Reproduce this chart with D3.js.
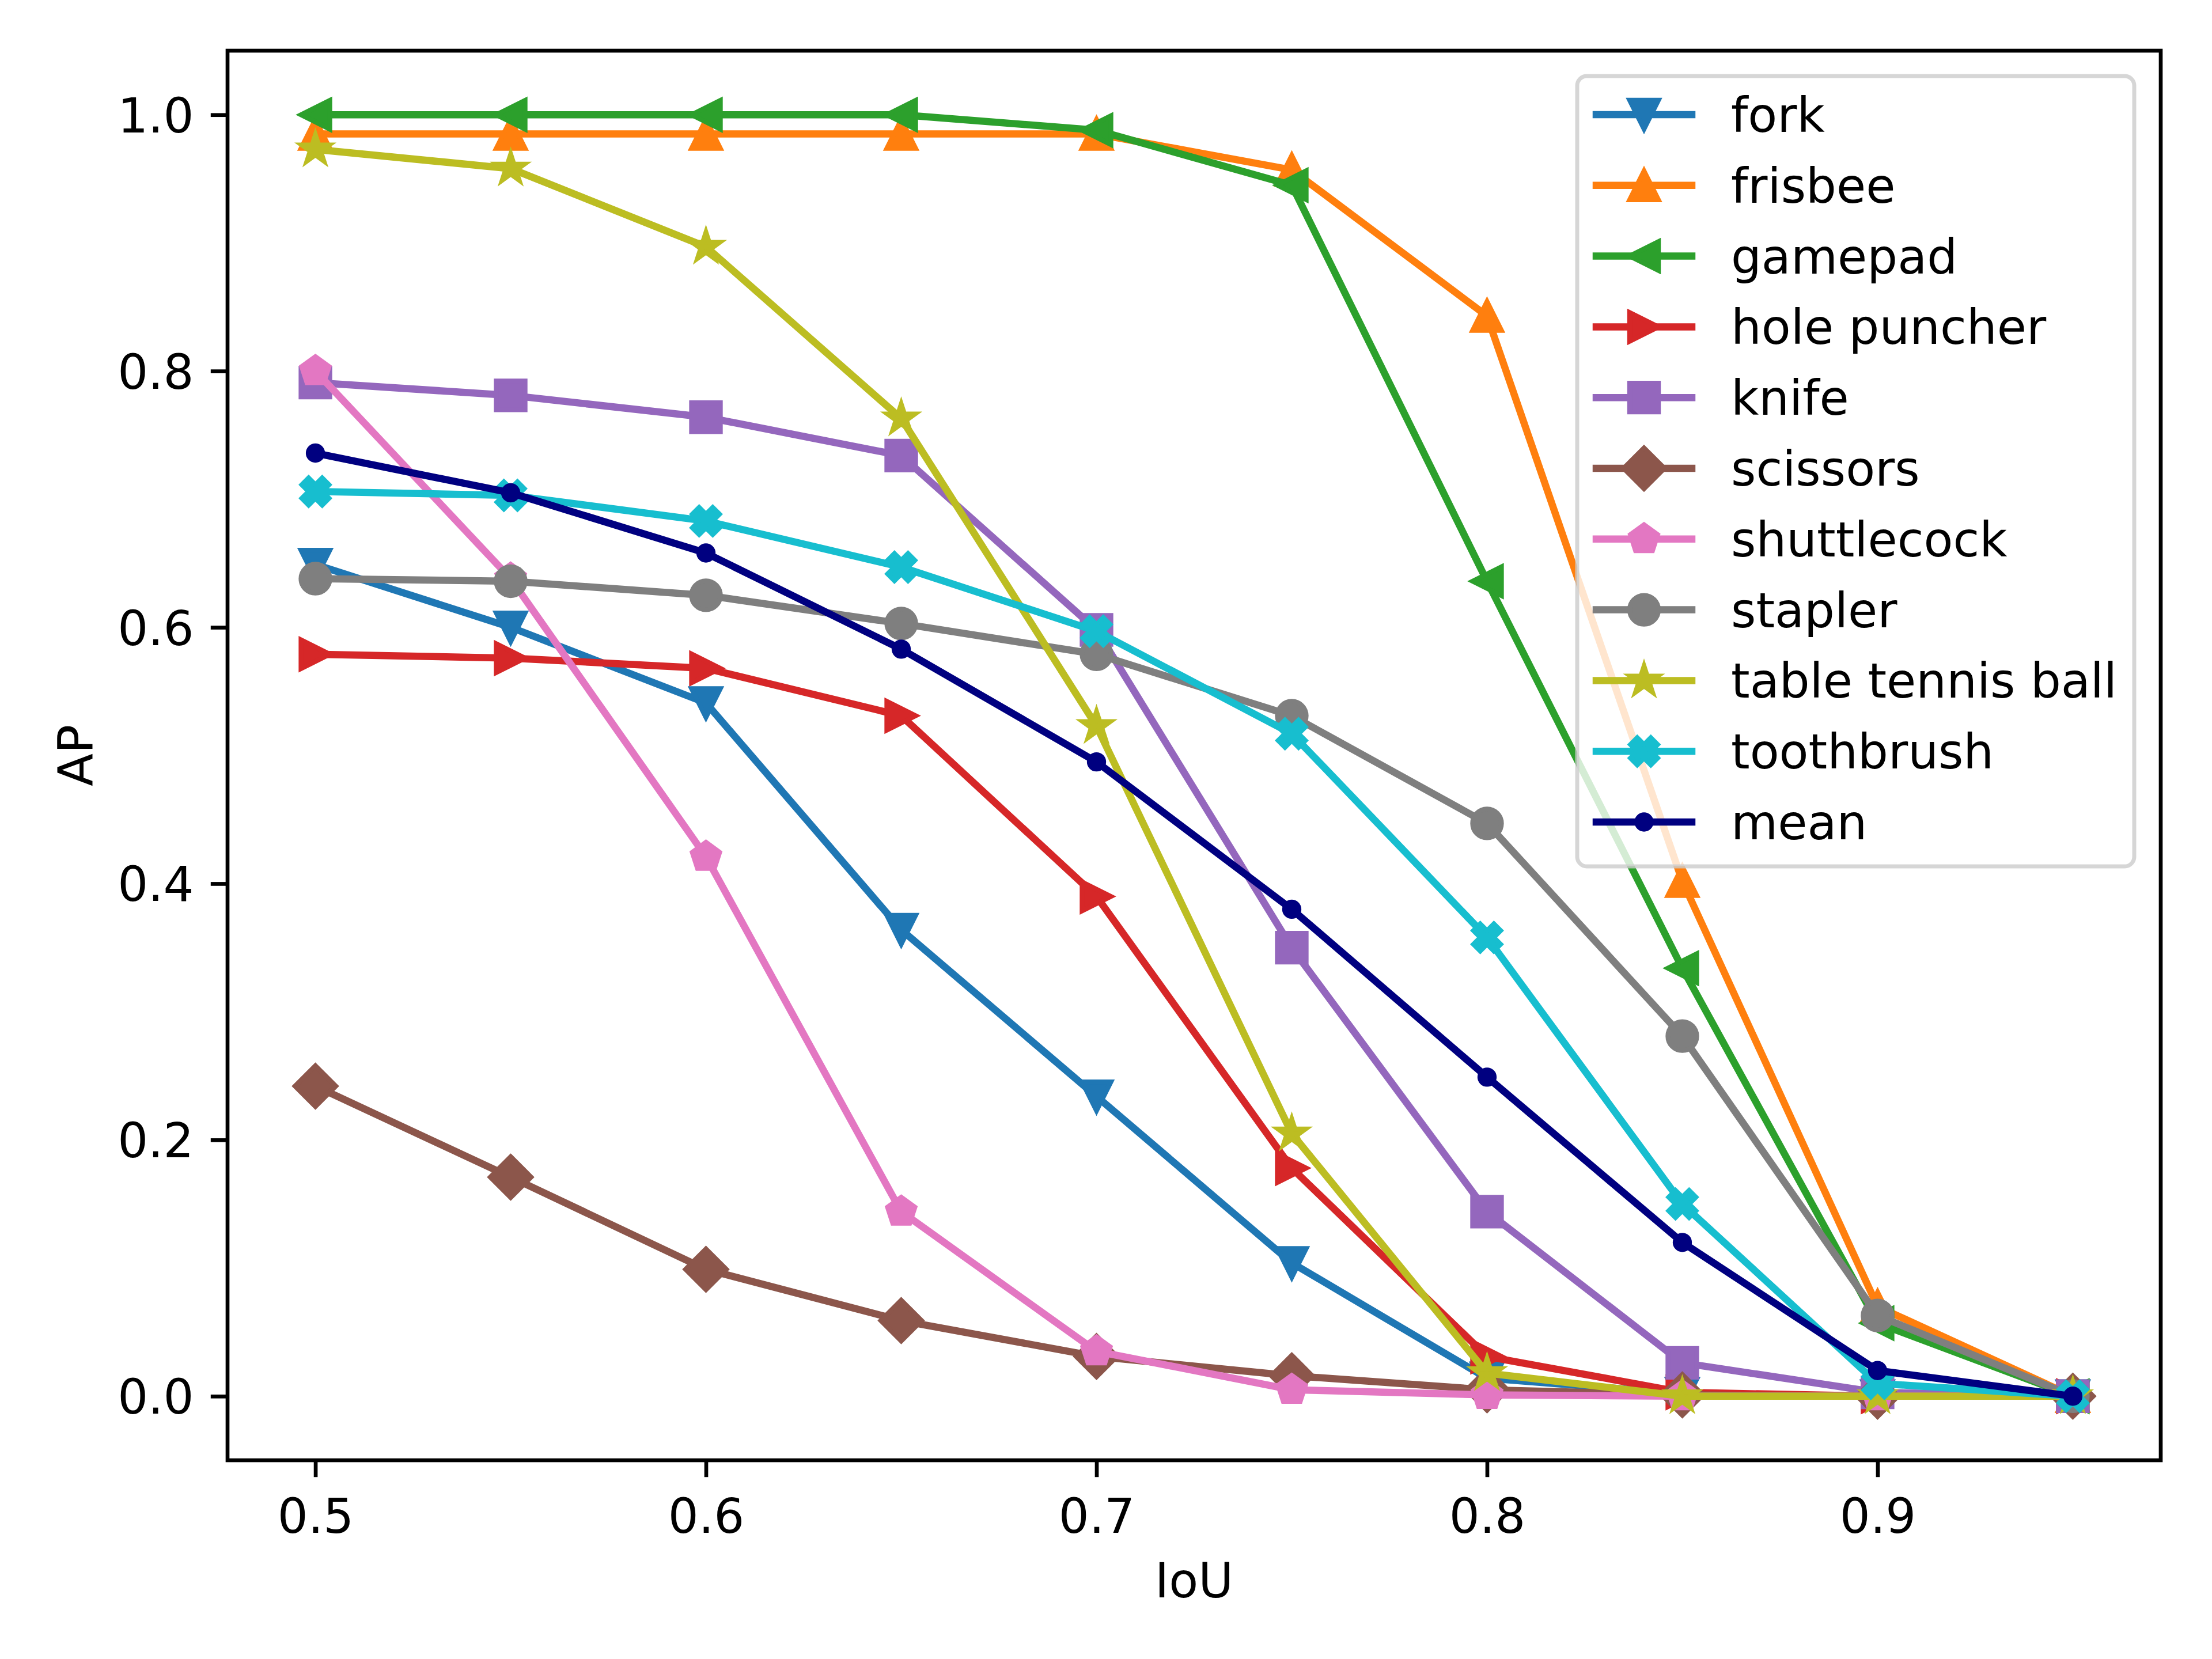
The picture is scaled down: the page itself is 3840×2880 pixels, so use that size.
<!DOCTYPE html>
<html>
<head>
<meta charset="utf-8">
<script src="https://cdn.jsdelivr.net/npm/d3@7"></script>
<style>
  html, body { margin: 0; padding: 0; background: #fff; }
  svg { display: block; }
  text { font-family: 'DejaVu Sans', sans-serif; }
</style>
</head>
<body>
<div id="chart"></div>
<script>
// AP vs IoU threshold, per category + mean
const iou = [0.5, 0.55, 0.6, 0.65, 0.7, 0.75, 0.8, 0.85, 0.9, 0.95]

const fork        = [0.649, 0.600, 0.541, 0.364, 0.234, 0.104, 0.014, 0.002, 0.000, 0.000]
const frisbee     = [0.985, 0.985, 0.985, 0.985, 0.985, 0.957, 0.843, 0.402, 0.070, 0.000]
const gamepad     = [1.000, 1.000, 1.000, 1.000, 0.988, 0.945, 0.636, 0.334, 0.057, 0.000]
const holePuncher = [0.579, 0.576, 0.568, 0.531, 0.390, 0.178, 0.031, 0.003, 0.000, 0.000]
const knife       = [0.791, 0.781, 0.764, 0.734, 0.598, 0.350, 0.144, 0.026, 0.003, 0.000]
const scissors    = [0.242, 0.171, 0.099, 0.059, 0.031, 0.016, 0.005, 0.001, 0.000, 0.000]
const shuttlecock = [0.800, 0.638, 0.421, 0.144, 0.035, 0.005, 0.001, 0.000, 0.000, 0.000]
const stapler     = [0.638, 0.636, 0.625, 0.603, 0.579, 0.531, 0.447, 0.281, 0.063, 0.000]
const tableTennis = [0.973, 0.958, 0.897, 0.763, 0.523, 0.205, 0.018, 0.000, 0.000, 0.000]
const toothbrush  = [0.706, 0.703, 0.683, 0.647, 0.597, 0.517, 0.358, 0.150, 0.010, 0.000]
const mean        = [0.736, 0.705, 0.658, 0.583, 0.495, 0.380, 0.249, 0.120, 0.020, 0.000]

const names = ['fork', 'frisbee', 'gamepad', 'hole puncher', 'knife', 'scissors',
  'shuttlecock', 'stapler', 'table tennis ball', 'toothbrush', 'mean']
const values = [fork, frisbee, gamepad, holePuncher, knife, scissors,
  shuttlecock, stapler, tableTennis, toothbrush, mean]

const xTicks = [0.5, 0.6, 0.7, 0.8, 0.9]
const yTicks = [0.0, 0.2, 0.4, 0.6, 0.8, 1.0]

// styling (matplotlib tab10 + navy for mean)
const colors = ['#1f77b4', '#ff7f0e', '#2ca02c', '#d62728', '#9467bd', '#8c564b',
  '#e377c2', '#7f7f7f', '#bcbd22', '#17becf', '#000080']
const markers = ['v', '^', '<', '>', 's', 'D', 'p', 'o', '*', 'X', '.']

const W = 3840, H = 2880
const M = { left: 395, right: 3751, top: 88, bottom: 2535 }
const FS = 83.3          // 10pt @ 600dpi
const LW = 12.5          // line width 1.5pt
const MS = 50            // markersize 6pt
const MEW = 8.33         // marker edge 1pt
const AXW = 6.67         // spine / tick width 0.8pt
const TICK = 29.2        // tick length 3.5pt

const x = d3.scaleLinear().domain([0.4775, 0.9725]).range([M.left, M.right])
const y = d3.scaleLinear().domain([-0.05, 1.05]).range([M.bottom, M.top])

// marker outlines in px, centred on 0,0 (svg y down)
function polygon(n, r, inner) {
  const pts = []
  const k = inner ? n * 2 : n
  for (let i = 0; i < k; i++) {
    const a = -Math.PI / 2 + i * Math.PI * 2 / k
    const rr = inner && i % 2 ? r * inner : r
    pts.push([rr * Math.cos(a), rr * Math.sin(a)])
  }
  return pts
}
function toPath(pts) {
  return 'M' + pts.map(p => p[0].toFixed(2) + ',' + p[1].toFixed(2)).join('L') + 'Z'
}
function circlePath(r) {
  return `M${-r},0A${r},${r} 0 1,0 ${r},0A${r},${r} 0 1,0 ${-r},0Z`
}
function markerPath(m) {
  const h = MS / 2
  switch (m) {
    case 'v': return toPath([[0, h], [-h, -h], [h, -h]])
    case '^': return toPath([[0, -h], [-h, h], [h, h]])
    case '<': return toPath([[-h, 0], [h, -h], [h, h]])
    case '>': return toPath([[h, 0], [-h, -h], [-h, h]])
    case 's': return toPath([[-h, -h], [h, -h], [h, h], [-h, h]])
    case 'D': return toPath([[0, -h * Math.SQRT2], [h * Math.SQRT2, 0], [0, h * Math.SQRT2], [-h * Math.SQRT2, 0]])
    case 'p': return toPath(polygon(5, h))
    case '*': return toPath(polygon(5, h, 0.381966))
    case 'o': return circlePath(h)
    case '.': return circlePath(h / 2)
    case 'X': {
      const plus = [[-1, -3], [1, -3], [1, -1], [3, -1], [3, 1], [1, 1],
        [1, 3], [-1, 3], [-1, 1], [-3, 1], [-3, -1], [-1, -1]]
      const c = Math.SQRT1_2
      return toPath(plus.map(([a, b]) => {
        const px = a / 6 * MS, py = b / 6 * MS
        return [px * c - py * c, px * c + py * c]
      }))
    }
  }
}

const svg = d3.select('#chart').append('svg')
  .attr('width', W).attr('height', H)
  .attr('viewBox', `0 0 ${W} ${H}`)

svg.append('rect').attr('width', W).attr('height', H).attr('fill', '#fff')

// axes
const yAxis = svg.append('g')
  .attr('transform', `translate(${M.left},0)`)
  .call(d3.axisLeft(y).tickValues(yTicks).tickFormat(d3.format('.1f'))
    .tickSizeInner(TICK).tickSizeOuter(0).tickPadding(TICK))
yAxis.select('.domain').remove()
yAxis.selectAll('line').attr('stroke', '#000').attr('stroke-width', AXW)
yAxis.selectAll('text').attr('font-size', FS).attr('dy', '0.36em')
  .attr('fill', '#000').style('font-family', 'DejaVu Sans, sans-serif')

const xAxis = svg.append('g')
  .attr('transform', `translate(0,${M.bottom})`)
  .call(d3.axisBottom(x).tickValues(xTicks).tickFormat(d3.format('.1f'))
    .tickSizeInner(TICK).tickSizeOuter(0).tickPadding(TICK))
xAxis.select('.domain').remove()
xAxis.selectAll('line').attr('stroke', '#000').attr('stroke-width', AXW)
xAxis.selectAll('text').attr('font-size', FS).attr('dy', '0.81em')
  .attr('fill', '#000').style('font-family', 'DejaVu Sans, sans-serif')

// series: line then markers, drawn in order like matplotlib
const line = d3.line().x((d, i) => x(iou[i])).y(d => y(d))
const plot = svg.append('g')

values.forEach((vals, si) => {
  const g = plot.append('g')
  g.append('path')
    .attr('d', line(vals))
    .attr('fill', 'none')
    .attr('stroke', colors[si])
    .attr('stroke-width', LW)
    .attr('stroke-linejoin', 'round')
    .attr('stroke-linecap', 'square')

  g.selectAll('path.mk').data(vals).join('path')
    .attr('class', 'mk')
    .attr('d', markerPath(markers[si]))
    .attr('transform', (d, i) => `translate(${x(iou[i])},${y(d)})`)
    .attr('fill', colors[si])
    .attr('stroke', colors[si])
    .attr('stroke-width', MEW)
    .attr('stroke-linejoin', 'miter')
})

// frame (spines)
svg.append('rect')
  .attr('x', M.left).attr('y', M.top)
  .attr('width', M.right - M.left).attr('height', M.bottom - M.top)
  .attr('fill', 'none').attr('stroke', '#000').attr('stroke-width', AXW)

// axis labels
svg.append('text')
  .attr('x', (M.left + M.right) / 2).attr('y', 2773)
  .attr('text-anchor', 'middle').attr('font-size', FS)
  .text('IoU')

svg.append('text')
  .attr('transform', `translate(161,${(M.top + M.bottom) / 2}) rotate(-90)`)
  .attr('text-anchor', 'middle').attr('font-size', FS)
  .text('AP')

// legend (upper right)
const LG = { x0: 2738, y0: 132, x1: 3705, y1: 1504, row0: 199, step: 122.8 }
const legend = svg.append('g')
legend.append('rect')
  .attr('x', LG.x0).attr('y', LG.y0)
  .attr('width', LG.x1 - LG.x0).attr('height', LG.y1 - LG.y0)
  .attr('rx', 16.7).attr('ry', 16.7)
  .attr('fill', '#fff').attr('fill-opacity', 0.8)
  .attr('stroke', '#cccccc').attr('stroke-opacity', 0.8)
  .attr('stroke-width', 7)

names.forEach((name, i) => {
  const cy = LG.row0 + i * LG.step
  legend.append('line')
    .attr('x1', 2771).attr('x2', 2937).attr('y1', cy).attr('y2', cy)
    .attr('stroke', colors[i]).attr('stroke-width', LW)
    .attr('stroke-linecap', 'square')
  legend.append('path')
    .attr('d', markerPath(markers[i]))
    .attr('transform', `translate(2854,${cy})`)
    .attr('fill', colors[i]).attr('stroke', colors[i])
    .attr('stroke-width', MEW).attr('stroke-linejoin', 'miter')
  legend.append('text')
    .attr('x', 3005).attr('y', cy + 30)
    .attr('font-size', FS).attr('fill', '#000')
    .text(name)
})
</script>
</body>
</html>
